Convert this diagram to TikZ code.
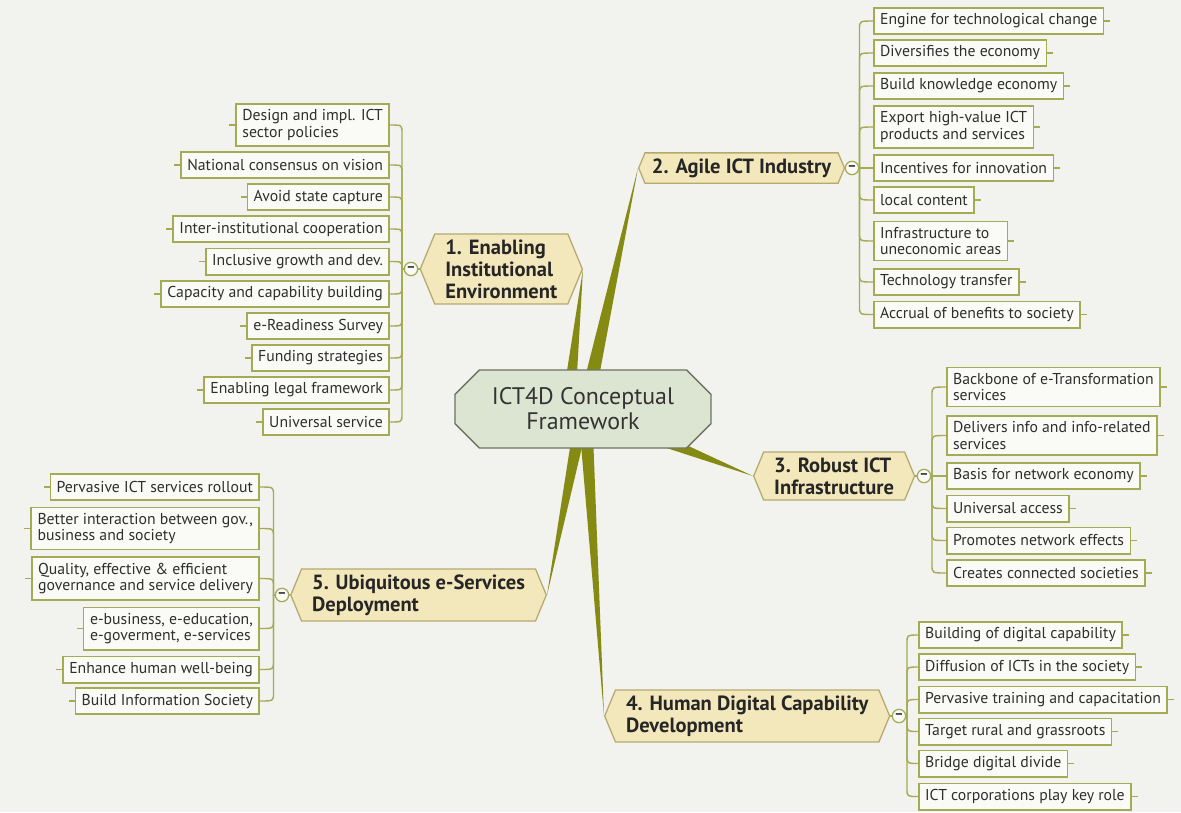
\documentclass[tikz,border=0pt]{standalone}
\usepackage{fontspec}
\setmainfont{PT Sans}
\usetikzlibrary{shapes.misc,shapes.symbols,calc}

\definecolor{paper}{HTML}{F2F2EF}
\definecolor{twigcol}{HTML}{A3AB55}
\definecolor{leaffill}{HTML}{FAFAF6}
\definecolor{branchfill}{HTML}{F3E7BC}
\definecolor{branchline}{HTML}{B5AA6E}
\definecolor{wedgecol}{HTML}{858A12}
\definecolor{hubfill}{HTML}{DCE5D2}
\definecolor{hubline}{HTML}{6C735F}
\definecolor{ink}{HTML}{2E2E2E}

\begin{document}
\begin{tikzpicture}[x=0.025cm, y=-0.025cm,
    leaf/.style={draw=twigcol, line width=1.1pt, fill=leaffill, text=ink, align=left,
        inner xsep=4.5pt, inner ysep=4pt, minimum height=18.8pt,
        font=\fontsize{11.2}{11.9}\selectfont},
    branch/.style={signal, signal to=west and east, signal pointer angle=135,
        draw=branchline, line width=0.9pt, fill=branchfill, text=black!85, align=left,
        inner xsep=7.5pt, inner ysep=4pt, font=\bfseries\fontsize{14.6}{15.6}\selectfont},
    hub/.style={chamfered rectangle, chamfered rectangle xsep=14pt,
        draw=hubline, line width=1pt, fill=hubfill, text=black!80, align=center,
        minimum width=182pt, minimum height=55.5pt, font=\fontsize{17}{17.8}\selectfont},
    knob/.style={circle, draw=twigcol, line width=0.9pt, fill=leaffill, text=ink,
        inner sep=0pt, minimum size=9.5pt, font=\bfseries\normalsize},
    twig/.style={draw=twigcol, line width=1pt},
    wedge/.style={fill=wedgecol}]

    % background
    \fill[paper] (0,0) rectangle (1181,812);
    \useasboundingbox (0,0) rectangle (1181,812);

    % wedges from the centre
    \coordinate (c) at (583,409);
    \coordinate (p1) at (583,269);
    \coordinate (p2) at (638,168);
    \coordinate (p3) at (753,476);
    \coordinate (p4) at (604,716);
    \coordinate (p5) at (547,595);
    \fill[wedge] ($(c)+(-22,0)$) -- (p1) -- ($(c)+(-8,0)$) -- cycle;
    \fill[wedge] ($(c)+(-6,0)$) -- (p2) -- ($(c)+(10,0)$) -- cycle;
    \fill[wedge] ($(c)+(0,-12)$) -- (p3) -- ($(c)+(0,12)$) -- cycle;
    \fill[wedge] ($(c)+(-5,0)$) -- (p4) -- ($(c)+(9,0)$) -- cycle;
    \fill[wedge] ($(c)+(-7,0)$) -- (p5) -- ($(c)+(8,0)$) -- cycle;

    \node[hub] (hub) at (c) {ICT4D Conceptual\\Framework};

    % main branches
    \node[branch, anchor=east] (b1) at (p1) {1. Enabling\\Institutional\\Environment};
    \node[branch, anchor=west, inner xsep=5pt] (b2) at (p2) {2. Agile ICT Industry};
    \node[branch, anchor=west] (b3) at (p3) {3. Robust ICT\\Infrastructure};
    \node[branch, anchor=west] (b4) at (p4) {4. Human Digital Capability\\Development};
    \node[branch, anchor=east] (b5) at (p5) {5. Ubiquitous e-Services\\Deployment};

    \coordinate (t1) at (402,269);
    \coordinate (t2) at (859.5,168);
    \coordinate (t3) at (932,476);
    \coordinate (t4) at (907,716);
    \coordinate (t5) at (273.5,595);

    % 1. Enabling Institutional Environment
    \node[leaf, anchor=east] (e1) at (390,125) {Design and impl. ICT\\sector policies};
    \node[leaf, anchor=east] (e2) at (390,165) {National consensus on vision};
    \node[leaf, anchor=east] (e3) at (390,197) {Avoid state capture};
    \node[leaf, anchor=east] (e4) at (390,229) {Inter-institutional cooperation};
    \node[leaf, anchor=east] (e5) at (390,261.5) {Inclusive growth and dev.};
    \node[leaf, anchor=east] (e6) at (390,294) {Capacity and capability building};
    \node[leaf, anchor=east] (e7) at (390,326) {e-Readiness Survey};
    \node[leaf, anchor=east] (e8) at (390,358) {Funding strategies};
    \node[leaf, anchor=east] (e9) at (390,390) {Enabling legal framework};
    \node[leaf, anchor=east] (e10) at (390,422) {Universal service};

    % 2. Agile ICT Industry
    \node[leaf, anchor=west] (g1) at (873,21) {Engine for technological change};
    \node[leaf, anchor=west] (g2) at (873,53) {Diversifies the economy};
    \node[leaf, anchor=west] (g3) at (873,86) {Build knowledge economy};
    \node[leaf, anchor=west] (g4) at (873,127) {Export high-value ICT\\products and services};
    \node[leaf, anchor=west] (g5) at (873,168) {Incentives for innovation};
    \node[leaf, anchor=west] (g6) at (873,200) {local content};
    \node[leaf, anchor=west] (g7) at (873,241) {Infrastructure to\\uneconomic areas};
    \node[leaf, anchor=west] (g8) at (873,282) {Technology transfer};
    \node[leaf, anchor=west] (g9) at (873,314.5) {Accrual of benefits to society};

    % 3. Robust ICT Infrastructure
    \node[leaf, anchor=west] (r1) at (946,387) {Backbone of e-Transformation\\services};
    \node[leaf, anchor=west] (r2) at (946,435.5) {Delivers info and info-related\\services};
    \node[leaf, anchor=west] (r3) at (946,476) {Basis for network economy};
    \node[leaf, anchor=west] (r4) at (946,508.5) {Universal access};
    \node[leaf, anchor=west] (r5) at (946,540.5) {Promotes network effects};
    \node[leaf, anchor=west] (r6) at (946,573) {Creates connected societies};

    % 4. Human Digital Capability Development
    \node[leaf, anchor=west] (h1) at (918,635) {Building of digital capability};
    \node[leaf, anchor=west] (h2) at (918,667) {Diffusion of ICTs in the society};
    \node[leaf, anchor=west] (h3) at (918,699.5) {Pervasive training and capacitation};
    \node[leaf, anchor=west] (h4) at (918,731.5) {Target rural and grassroots};
    \node[leaf, anchor=west] (h5) at (918,763.5) {Bridge digital divide};
    \node[leaf, anchor=west] (h6) at (918,796.5) {ICT corporations play key role};

    % 5. Ubiquitous e-Services Deployment
    \node[leaf, anchor=east] (u1) at (260,487) {Pervasive ICT services rollout};
    \node[leaf, anchor=east] (u2) at (260,528.5) {Better interaction between gov.,\\business and society};
    \node[leaf, anchor=east] (u3) at (260,578.5) {Quality, effective \& efficient\\governance and service delivery};
    \node[leaf, anchor=east] (u4) at (260,628.5) {e-business, e-education,\\e-goverment, e-services};
    \node[leaf, anchor=east] (u5) at (260,669.5) {Enhance human well-being};
    \node[leaf, anchor=east] (u6) at (260,701) {Build Information Society};

    % twigs
    \draw[twig] (b1.west) -- (t1);
    \foreach \i in {1,...,5}
        \draw[twig] (t1) -- ($(t1 |- e\i.east)+(0,8)$) .. controls (t1 |- e\i.east) .. (e\i.east);
    \foreach \i in {6,...,10}
        \draw[twig] (t1) -- ($(t1 |- e\i.east)+(0,-8)$) .. controls (t1 |- e\i.east) .. (e\i.east);
    \foreach \i in {1,...,10}
        \draw[twig] (e\i.west) -- ++(-6,0);

    \draw[twig] (b2.east) -- (t2);
    \foreach \i in {1,...,4}
        \draw[twig] (t2) -- ($(t2 |- g\i.west)+(0,8)$) .. controls (t2 |- g\i.west) .. (g\i.west);
    \draw[twig] (t2) -- (g5.west);
    \foreach \i in {6,...,9}
        \draw[twig] (t2) -- ($(t2 |- g\i.west)+(0,-8)$) .. controls (t2 |- g\i.west) .. (g\i.west);
    \foreach \i in {1,...,9}
        \draw[twig] (g\i.east) -- ++(6,0);

    \draw[twig] (b3.east) -- (t3);
    \foreach \i in {1,2}
        \draw[twig] (t3) -- ($(t3 |- r\i.west)+(0,8)$) .. controls (t3 |- r\i.west) .. (r\i.west);
    \draw[twig] (t3) -- (r3.west);
    \foreach \i in {4,5,6}
        \draw[twig] (t3) -- ($(t3 |- r\i.west)+(0,-8)$) .. controls (t3 |- r\i.west) .. (r\i.west);
    \foreach \i in {1,...,6}
        \draw[twig] (r\i.east) -- ++(6,0);

    \draw[twig] (b4.east) -- (t4);
    \foreach \i in {1,2,3}
        \draw[twig] (t4) -- ($(t4 |- h\i.west)+(0,8)$) .. controls (t4 |- h\i.west) .. (h\i.west);
    \foreach \i in {4,5,6}
        \draw[twig] (t4) -- ($(t4 |- h\i.west)+(0,-8)$) .. controls (t4 |- h\i.west) .. (h\i.west);
    \foreach \i in {1,...,6}
        \draw[twig] (h\i.east) -- ++(6,0);

    \draw[twig] (b5.west) -- (t5);
    \foreach \i in {1,2,3}
        \draw[twig] (t5) -- ($(t5 |- u\i.east)+(0,8)$) .. controls (t5 |- u\i.east) .. (u\i.east);
    \foreach \i in {4,5,6}
        \draw[twig] (t5) -- ($(t5 |- u\i.east)+(0,-8)$) .. controls (t5 |- u\i.east) .. (u\i.east);
    \foreach \i in {1,...,6}
        \draw[twig] (u\i.west) -- ++(-6,0);

    % collapse knobs
    \node[knob] (k1) at (411,269) {–};
    \node[knob] (k2) at (852,168) {–};
    \node[knob] (k3) at (924,476) {–};
    \node[knob] (k4) at (899,716) {–};
    \node[knob] (k5) at (282,595) {–};
\end{tikzpicture}
\end{document}
